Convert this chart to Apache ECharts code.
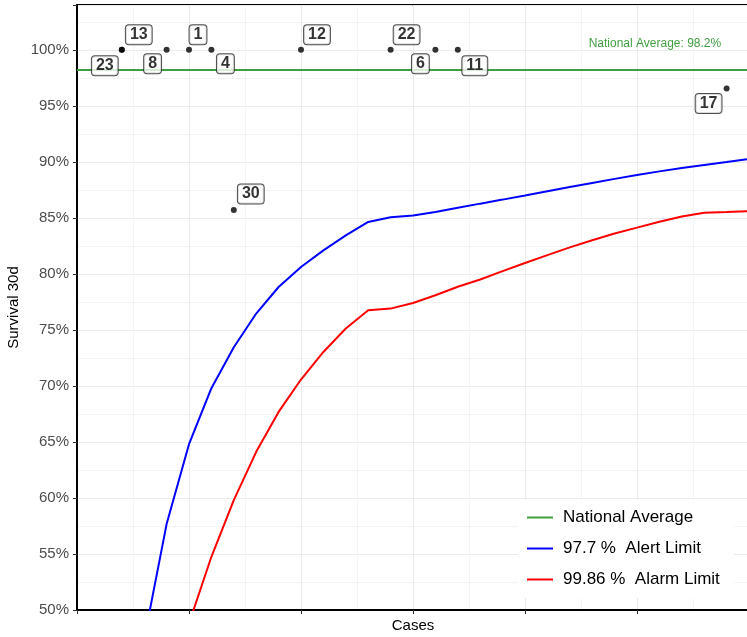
<!DOCTYPE html>
<html><head><meta charset="utf-8">
<script src="https://cdn.jsdelivr.net/npm/echarts@6/dist/echarts.min.js"></script>
<style>html,body{margin:0;padding:0;background:#fff}#c{width:747px;height:637px}</style>
</head><body><div id="c"></div>
<script>
// ---- data ----
const hospitalIds = ['1','4','6','8','11','12','13','17','22','23','30'];
const hospitalCases = [5, 6, 16, 4, 17, 10, 2, 29, 14, 2, 7];
const hospitalSurvival = [100, 100, 100, 100, 100, 100, 100, 96.55, 100, 100, 85.71];

const limitCases = [3,4,5,6,7,8,9,10,11,12,13,14,15,16,17,18,19,20,21,22,23,24,25,26,27,28,29,30];
const alertLimit = [47.4,57.67,64.8,69.8,73.45,76.46,78.83,80.61,82.1,83.44,84.64,85.05,85.22,85.52,85.9,86.27,86.63,87.0,87.38,87.75,88.12,88.48,88.83,89.15,89.45,89.72,89.98,90.25];
const alarmLimit = [null,null,48.8,54.75,59.81,64.12,67.68,70.57,73.03,75.12,76.75,76.9,77.4,78.09,78.85,79.5,80.25,80.97,81.67,82.37,83.0,83.6,84.13,84.65,85.13,85.46,85.52,85.6];

const nationalAverage = 98.2;
const yTicks = [50,55,60,65,70,75,80,85,90,95,100];

// ---- layout / style (not data) ----
const labelOffsets = {
  '1':[9,-15], '4':[14,14], '6':[-15,14], '8':[-14,14], '11':[17,16], '12':[16,-15],
  '13':[17,-15], '17':[-18,15], '22':[16,-15], '23':[-17,16], '30':[17,-16]
};
const FONT = '"Liberation Sans", Arial, Helvetica, sans-serif';
const GREEN = '#3f9f3f';

const pts = hospitalIds.map((id, i) => ({
  name: id,
  value: [hospitalCases[i], hospitalSurvival[i]],
  label: { offset: labelOffsets[id] }
}));

const chart = echarts.init(document.getElementById('c'), null, {renderer: 'canvas'});
const option = {
  animation: false,
  backgroundColor: '#fff',
  textStyle: { fontFamily: FONT },
  grid: { left: 77, right: -2, top: 5, bottom: 27, containLabel: false, outerBoundsMode: 'none',
          show: true, borderColor: '#000', borderWidth: 2, backgroundColor: 'transparent' },
  xAxis: [
    { type: 'value', min: 0, max: 30, interval: 2.5,
      axisLine: {show: false}, axisTick: {show: false}, axisLabel: {show: false},
      splitLine: {show: true, lineStyle: {color: ['#ebebeb', '#f4f4f4'], width: 1}} },
    { type: 'value', min: 0, max: 30, interval: 5, position: 'bottom',
      name: 'Cases', nameLocation: 'middle', nameGap: 8,
      nameTextStyle: {fontSize: 15, color: '#000', fontFamily: FONT, verticalAlign: 'top'},
      axisLine: {show: true, lineStyle: {color: '#000', width: 2}},
      axisTick: {show: true, length: 4, lineStyle: {color: '#333'}},
      axisLabel: {show: false}, splitLine: {show: false} }
  ],
  yAxis: [
    { type: 'value', min: 50, max: 104, interval: 2.5,
      axisLine: {show: false}, axisTick: {show: false}, axisLabel: {show: false},
      splitLine: {show: true, lineStyle: {color: ['#ebebeb', '#f4f4f4'], width: 1}} },
    { type: 'value', min: 50, max: 104, interval: 5, position: 'left',
      name: 'Survival 30d', nameLocation: 'middle', nameGap: 56, nameMoveOverlap: false,
      nameTextStyle: {fontSize: 15, color: '#000', fontFamily: FONT},
      axisLine: {show: true, lineStyle: {color: '#000', width: 2}},
      axisTick: {show: true, length: 4, lineStyle: {color: '#333'}},
      axisLabel: {show: true, fontSize: 15, color: '#4d4d4d', margin: 8, fontFamily: FONT,
        formatter: v => (yTicks.indexOf(v) >= 0 ? v + '%' : '')},
      splitLine: {show: false} }
  ],
  legend: {
    orient: 'vertical', left: 518, top: 500,
    backgroundColor: '#fff', padding: [9, 14, 10, 9],
    icon: 'rect', itemWidth: 26, itemHeight: 2, itemGap: 14,
    textStyle: {fontSize: 17, color: '#000', lineHeight: 17, padding: [0,0,0,5], fontFamily: FONT},
    data: ['National Average', '97.7 %  Alert Limit', '99.86 %  Alarm Limit']
  },
  series: [
    { name: 'National Average', type: 'line', xAxisIndex: 0, yAxisIndex: 0,
      data: [[0, nationalAverage], [30, nationalAverage]],
      showSymbol: false, symbol: 'none', color: GREEN, lineStyle: {color: GREEN, width: 2}, z: 2,
      markPoint: { symbol: 'circle', symbolSize: 0, silent: true,
        data: [{ coord: [25.8, 100.56], value: nationalAverage }],
        label: { show: true, position: 'inside', formatter: 'National Average: ' + nationalAverage + '%',
                 color: GREEN, fontSize: 12, fontFamily: FONT } } },
    { name: '97.7 %  Alert Limit', type: 'line', xAxisIndex: 0, yAxisIndex: 0,
      data: limitCases.map((c, i) => [c, alertLimit[i]]),
      showSymbol: false, symbol: 'none', color: '#0000ff', lineStyle: {color: '#0000ff', width: 2}, z: 2 },
    { name: '99.86 %  Alarm Limit', type: 'line', xAxisIndex: 0, yAxisIndex: 0,
      data: limitCases.map((c, i) => [c, alarmLimit[i]]),
      showSymbol: false, symbol: 'none', color: '#ff0000', lineStyle: {color: '#ff0000', width: 2}, z: 2 },
    { name: 'Hospitals', type: 'scatter', xAxisIndex: 0, yAxisIndex: 0,
      data: pts, symbolSize: 6, itemStyle: {color: '#000'}, z: 4,
      label: { show: true, position: 'inside', formatter: p => p.name,
        fontSize: 16, fontWeight: 'bold', color: '#000', fontFamily: FONT,
        backgroundColor: '#fff', borderColor: '#222', borderWidth: 1, borderRadius: 3,
        padding: [2, 4, 1, 4], lineHeight: 16 } }
  ]
};
chart.setOption(option);
</script></body></html>
